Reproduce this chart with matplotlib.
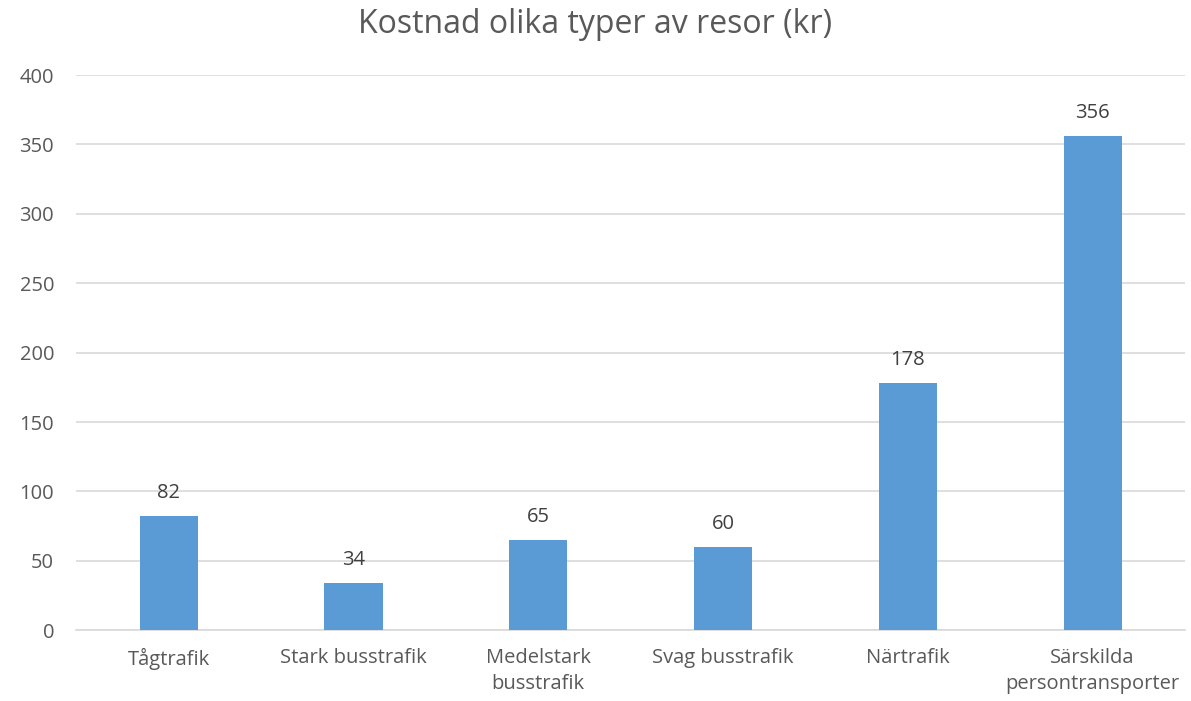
import matplotlib.pyplot as plt

categories = ["Tågtrafik", "Stark busstrafik", "Medelstark\nbusstrafik",
              "Svag busstrafik", "Närtrafik", "Särskilda\npersontransporter"]
costs = [82, 34, 65, 60, 178, 356]
yticks = [0, 50, 100, 150, 200, 250, 300, 350, 400]

plt.rcParams["font.family"] = ["Open Sans", "DejaVu Sans"]

fig = plt.figure(figsize=(11.91, 7.01), dpi=100)
ax = fig.add_axes([0.064, 0.101, 0.931, 0.792])

x = range(len(categories))
bars = ax.bar(x, costs, width=0.315, color="#5B9BD5", zorder=3)
for b, v in zip(bars, costs):
    ax.annotate(str(v), (b.get_x() + b.get_width() / 2, v), xytext=(0, 9.5),
                textcoords="offset points", ha="center", va="bottom",
                fontsize=14.5, color="#404040")

ax.set_xlim(-0.5, len(categories) - 0.5)
ax.set_ylim(0, 400)
ax.set_yticks(yticks)
ax.set_xticks(list(x))
ax.set_xticklabels(categories, fontsize=14.5, color="#595959", linespacing=1.4)
ax.tick_params(axis="y", labelsize=14.5, labelcolor="#595959", length=0, pad=16)
ax.tick_params(axis="x", length=0, pad=13)
ax.grid(axis="y", color="#D9D9D9", linewidth=1.2, zorder=0)
for s in ["top", "right", "left"]:
    ax.spines[s].set_visible(False)
ax.spines["bottom"].set_color("#D9D9D9")
ax.spines["bottom"].set_linewidth(1.2)

fig.suptitle("Kostnad olika typer av resor (kr)", fontsize=23, color="#595959",
             y=0.988, va="top")

fig.savefig("out.png", dpi=100)
